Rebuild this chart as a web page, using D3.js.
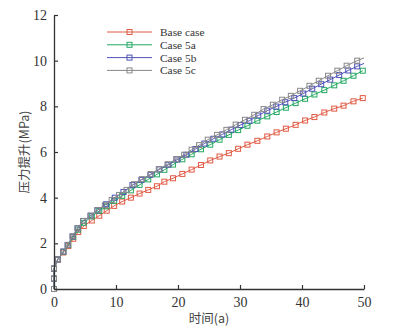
<!DOCTYPE html>
<html><head><meta charset="utf-8">
<script src="https://cdn.jsdelivr.net/npm/d3@7"></script>
<style>body{margin:0;background:#fff}svg{display:block}</style>
</head><body>
<script>
const xTicks = [0, 10, 20, 30, 40, 50];
const yTicks = [0, 2, 4, 6, 8, 10, 12];
const seriesNames = ["Base case", "Case 5a", "Case 5b", "Case 5c"];
const seriesColors = ["#e05a44", "#22a862", "#4f52b8", "#888888"];

const timeA = [0,0,0,0.6,1.5,2.3,3.1,3.9,4.8,6.1,7.3,8.5,9.7,11.0,12.4,13.8,15.2,16.6,17.8,19.2,20.7,22.2,23.7,25.2,26.7,28.2,29.7,31.2,32.8,34.4,35.9,37.4,38.97,40.5,42.0,43.6,45.2,46.7,48.3,49.8];
const baseCase = [0,0.45,0.89,1.28,1.6,1.88,2.2,2.5,2.76,3.0,3.21,3.43,3.64,3.83,4.0,4.18,4.34,4.5,4.7,4.85,5.04,5.23,5.43,5.63,5.8,5.95,6.14,6.32,6.49,6.68,6.86,7.02,7.19,7.38,7.53,7.73,7.9,8.03,8.22,8.36];
const case5a = [0,0.45,0.89,1.3,1.62,1.92,2.28,2.6,2.9,3.18,3.42,3.62,3.86,4.08,4.32,4.56,4.8,5.02,5.22,5.45,5.68,5.9,6.12,6.32,6.54,6.75,6.96,7.15,7.37,7.56,7.75,7.94,8.14,8.33,8.52,8.71,8.92,9.12,9.34,9.56];

const timeB = [0,0,0,0.6,1.5,2.2,3.0,3.8,4.7,5.9,7.0,8.4,9.8,11.2,12.65,14.1,15.55,17.0,18.45,19.9,21.35,22.8,24.25,25.7,27.15,28.6,30.05,31.5,32.95,34.4,35.85,37.3,38.75,40.2,41.65,43.1,44.55,46.0,47.45,48.9];
const case5b = [0,0.45,0.89,1.3,1.64,1.93,2.3,2.66,2.98,3.21,3.45,3.71,4.0,4.25,4.55,4.78,5.0,5.24,5.44,5.67,5.88,6.13,6.37,6.58,6.77,6.98,7.18,7.37,7.6,7.81,7.99,8.18,8.36,8.56,8.77,8.97,9.17,9.37,9.57,9.75];

const timeC = [0,0,0,0.6,1.5,2.2,3.0,3.8,4.7,5.9,7.0,8.2,9.3,10.5,11.7,12.9,14.2,15.6,16.9,18.3,19.7,21.0,22.2,23.4,24.8,26.3,27.8,29.3,30.8,32.3,33.8,35.3,36.8,38.2,39.7,41.2,42.7,44.2,45.7,47.2,48.9];
const case5c = [0,0.45,0.89,1.3,1.64,1.93,2.3,2.66,2.98,3.21,3.45,3.67,3.9,4.12,4.34,4.59,4.81,5.03,5.25,5.46,5.69,5.88,6.1,6.3,6.54,6.75,6.97,7.2,7.41,7.63,7.88,8.07,8.29,8.46,8.68,8.9,9.12,9.34,9.56,9.78,10.0];

// line end values at t = 50 (no marker)
const lineEndTime = 50;
const lineEnd = [null, null, 9.88, 10.12];

const seriesTimes = [timeA, timeA, timeB, timeC];
const seriesValues = [baseCase, case5a, case5b, case5c];

const W = 397, H = 328;
const m = {left: 54, right: 33, top: 15, bottom: 39};
const svg = d3.select("body").append("svg").attr("width", W).attr("height", H);
const x = d3.scaleLinear().domain([0, 50]).range([m.left, W - m.right]);
const y = d3.scaleLinear().domain([0, 12]).range([H - m.bottom, m.top]);

const serif = "'Liberation Serif','Times New Roman',serif";
const cjk = "'Noto Sans CJK SC','Noto Sans',sans-serif";

// series
const line = d3.line().x(d => x(d[0])).y(d => y(d[1]));
[0, 1, 2, 3].forEach(i => {
  const pts = seriesTimes[i].map((t, k) => [t, seriesValues[i][k]]);
  const linePts = lineEnd[i] != null ? pts.concat([[lineEndTime, lineEnd[i]]]) : pts;
  const g = svg.append("g");
  g.append("path").datum(linePts).attr("d", line)
    .attr("fill", "none").attr("stroke", seriesColors[i]).attr("stroke-width", 1);
  g.selectAll("rect").data(pts).join("rect")
    .attr("x", d => x(d[0]) - 2.5).attr("y", d => y(d[1]) - 2.5)
    .attr("width", 5).attr("height", 5)
    .attr("fill", "none").attr("stroke", seriesColors[i]).attr("stroke-width", 1);
});

// axes
const axisColor = "#333";
const xAxis = svg.append("g").attr("transform", `translate(0,${y(0)})`)
  .call(d3.axisBottom(x).tickValues(xTicks).tickSizeInner(-4).tickSizeOuter(0).tickPadding(8));
const yAxis = svg.append("g").attr("transform", `translate(${x(0)},0)`)
  .call(d3.axisLeft(y).tickValues(yTicks).tickSizeInner(-4).tickSizeOuter(0).tickPadding(7));
[xAxis, yAxis].forEach(a => {
  a.select(".domain").attr("stroke", axisColor).attr("stroke-width", 1.3);
  a.selectAll(".tick line").attr("stroke", axisColor).attr("stroke-width", 1.2);
  a.selectAll(".tick text").attr("font-family", serif).attr("font-size", 14).attr("fill", "#333");
});

// titles
svg.append("text").attr("x", (x(0) + x(50)) / 2).attr("y", 323)
  .attr("text-anchor", "middle").attr("font-family", cjk).attr("font-size", 12.5).attr("fill", "#444")
  .text("时间(a)");
svg.append("text").attr("transform", `translate(29,${(y(0) + y(12)) / 2}) rotate(-90)`)
  .attr("text-anchor", "middle").attr("font-family", cjk).attr("font-size", 12.5).attr("fill", "#444")
  .text("压力提升(MPa)");

// legend
const lg = svg.append("g");
seriesNames.forEach((name, i) => {
  const yy = 32 + i * 12.8;
  lg.append("line").attr("x1", 107).attr("x2", 152).attr("y1", yy).attr("y2", yy)
    .attr("stroke", seriesColors[i]).attr("stroke-width", 1);
  lg.append("rect").attr("x", 129.5 - 2.5).attr("y", yy - 2.5).attr("width", 5).attr("height", 5)
    .attr("fill", "none").attr("stroke", seriesColors[i]).attr("stroke-width", 1);
  lg.append("text").attr("x", 160).attr("y", yy + 4).attr("font-family", serif)
    .attr("font-size", 11.4).attr("fill", "#333").text(name);
});
</script>
</body></html>
